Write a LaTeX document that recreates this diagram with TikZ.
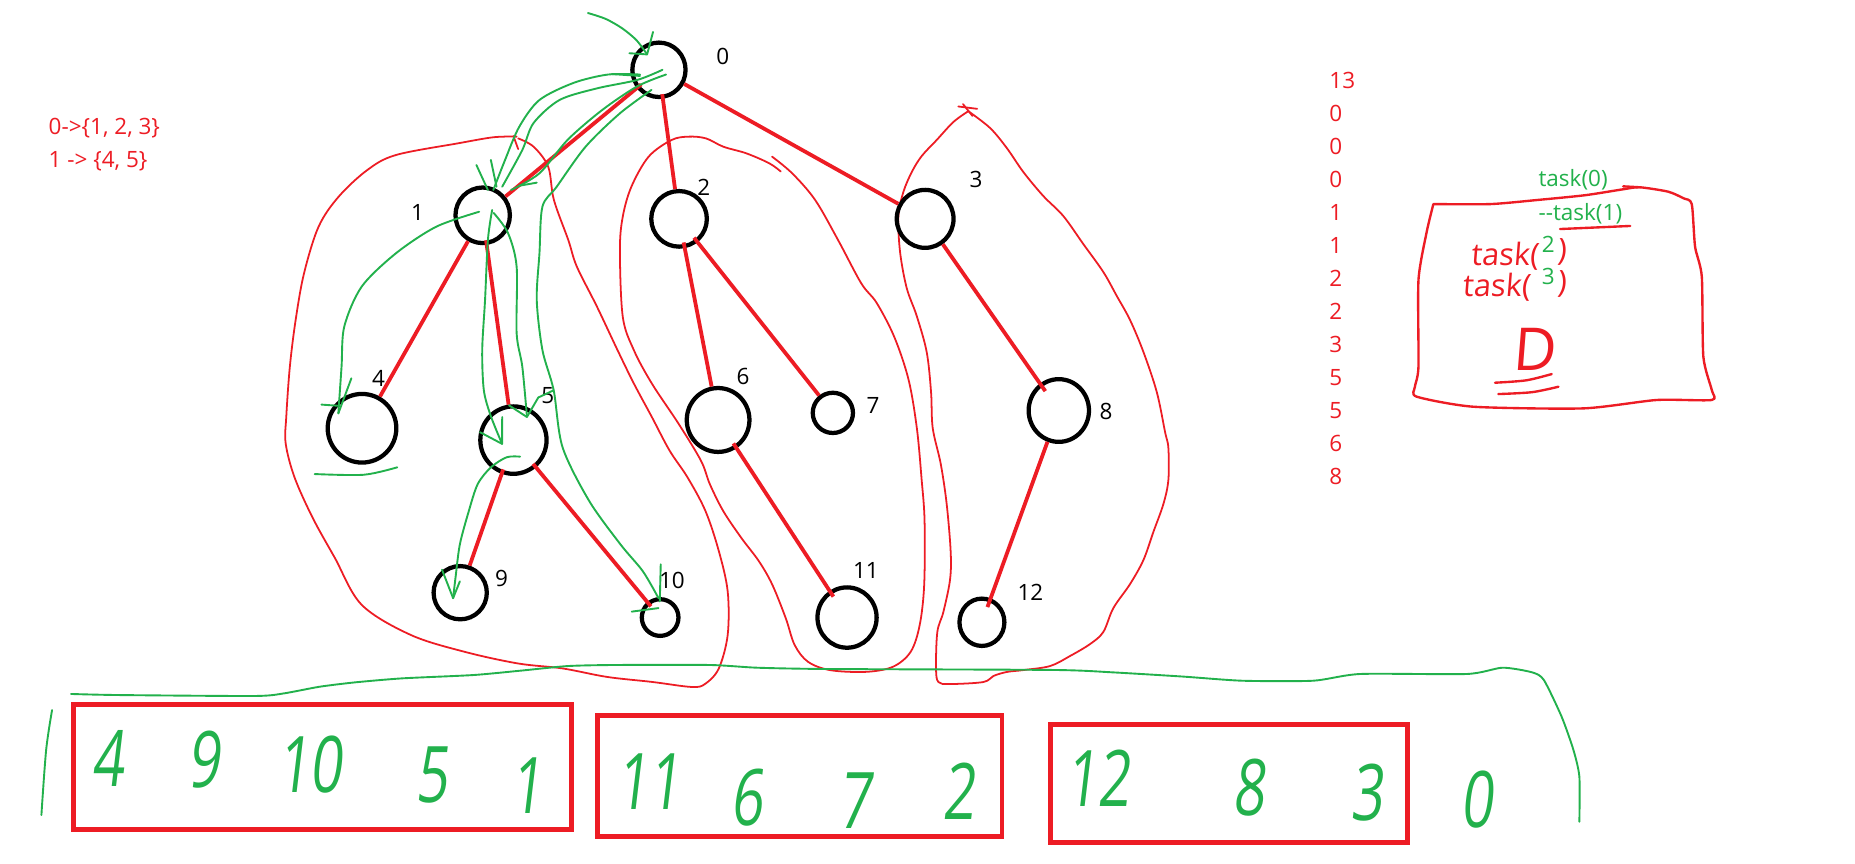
\documentclass[tikz,border=0pt]{standalone}
\usepackage{fontspec}
\setmainfont{Open Sans}
\newfontfamily\handfont[FakeSlant=0.12,FakeStretch=0.72]{Open Sans}
\newfontfamily\scribble[FakeSlant=0.08]{Open Sans}
\usetikzlibrary{shapes.geometric}
\definecolor{pred}{RGB}{237,28,36}
\definecolor{pgreen}{RGB}{34,177,76}
\tikzset{
 tnode/.style={ellipse, draw=black, line width=3.6pt, inner sep=0pt},
 nlabel/.style={font=\fontsize{19}{22}\selectfont, inner sep=0pt, text=black},
 tedge/.style={draw=pred, line width=3.2pt},
 redhand/.style={draw=pred, line width=1.5pt, line cap=round, line join=round},
 greenhand/.style={draw=pgreen, line width=1.6pt, line cap=round, line join=round},
 redtxt/.style={font=\fontsize{19}{22}\selectfont, text=pred, inner sep=0pt},
 greentxt/.style={font=\fontsize{19}{22}\selectfont, text=pgreen, inner sep=0pt},
 handdigit/.style={font=\handfont\fontsize{66}{66}\selectfont, text=pgreen, inner sep=0pt},
 redscribble/.style={font=\scribble\fontsize{26}{28}\selectfont, text=pred, inner sep=0pt},
 resultbox/.style={draw=pred, line width=4pt},
}
\begin{document}
\begin{tikzpicture}[x=1pt,y=-1pt]
\useasboundingbox (0,0) rectangle (1568,730);
\fill[white] (0,0) rectangle (1568,730);

% ---------- red subtree outlines ----------
\draw[redhand] plot[smooth, tension=0.55] coordinates {(436.7,115.5)(417.3,116)(388,121)(334.8,131)(310.5,143.7)(286.3,166.2)(269.3,191.6)(257,231)(249.9,270.5)(245,310)(242,352)(241.5,375)(249,403.6)(264.2,437.5)(283,471.5)(305.7,511.2)(347.2,536.7)(392.5,550.9)(437.8,560.8)(475.5,565)(513.2,572.2)(551,576.4)(585,580.7)(596.3,577.9)(607.6,565)(615.1,536.7)(615.1,499.9)(607.6,465.8)(596.3,431.9)(581.2,403.6)(566,380.9)(551,352.5)(535.8,324.2)(522,296)(504.6,259.2)(487.6,225.4)(480.4,203)(468.2,169)(463.4,141)(451,124)(438,117)};
\draw[redhand] (434,115) -- (438,126);
\draw[redhand] plot[smooth, tension=0.55] coordinates {(660,145)(650.2,138)(630.8,129.6)(611.4,124)(596.8,117)(582.3,115.5)(567.7,118.3)(548.3,132.4)(533.7,157.8)(526.4,183.2)(524,211.3)(526.4,267.7)(535.8,296)(551,324.2)(573.6,358.2)(592.5,389.4)(600,409.2)(611.3,431.9)(626.5,454.5)(641.5,474.4)(652.8,494.2)(664.2,522.6)(671.7,545.2)(683,559.4)(702,566.5)(732.1,567.9)(754.8,563.6)(769.8,550.9)(777.4,528.3)(781.2,494.2)(781.5,440)(779,405)(775,362)(768,321)(756,285)(741,256)(728,239.5)(708.4,202.9)(689,169)(669.6,146.5)(652.6,132.4)};
\draw[redhand] plot[smooth, tension=0.55] coordinates {(818.5,94)(836.9,108.2)(851,125.1)(865,145.4)(881.9,165.7)(898.8,182.6)(915.7,206.3)(932.6,229.9)(944,250.2)(955.2,270.5)(966.5,297.5)(977.8,331.4)(984.8,365.2)(987.6,378.7)(987.6,405.7)(983.4,426)(974.9,449.7)(966.5,473.4)(955.2,493.7)(941.1,514)(932.6,534.2)(921.4,544.4)(904.5,554.5)(887.6,563)(865,566.4)(851,568)(839.7,571.4)(831.2,576.5)(803,578.2)(793.2,576.5)(791.2,564.7)(792.3,534.2)(797.4,517.3)(803,490.3)(803.6,466.6)(800.2,426)(795.2,392.2)(788.4,361.8)(787,331.4)(783.3,297.5)(774.9,267.1)(766.4,243.4)(760.8,213)(759.4,182.6)(763.6,162.3)(770.7,145.4)(779.1,131.9)(791.8,118.3)(805.9,103.1)(818.5,94)};
\draw[redhand] (810,90) -- (826,92);
\draw[redhand] (814,88) -- (822,98);

% ---------- tree nodes ----------
\node[tnode, minimum width=45pt, minimum height=46pt] (n0) at (557,59) {};
\node[tnode, minimum width=46pt, minimum height=47pt] (n1) at (408,182) {};
\node[tnode, minimum width=47pt, minimum height=47pt] (n2) at (574,185) {};
\node[tnode, minimum width=48pt, minimum height=49pt] (n3) at (782,185) {};
\node[tnode, minimum width=58pt, minimum height=58pt] (n4) at (306,362) {};
\node[tnode, minimum width=56pt, minimum height=57pt] (n5) at (434,372) {};
\node[tnode, minimum width=53pt, minimum height=54pt] (n6) at (607,355) {};
\node[tnode, minimum width=34pt, minimum height=34pt] (n7) at (704,349) {};
\node[tnode, minimum width=51pt, minimum height=53pt] (n8) at (895,347) {};
\node[tnode, minimum width=45pt, minimum height=45pt] (n9) at (389,501) {};
\node[tnode, minimum width=31pt, minimum height=31pt] (n10) at (558,522) {};
\node[tnode, minimum width=50pt, minimum height=51pt] (n11) at (716,522) {};
\node[tnode, minimum width=38pt, minimum height=40pt] (n12) at (830,526) {};

\node[nlabel] (l0) at (611,48) {0};
\node[nlabel] (l1) at (353,180) {1};
\node[nlabel] (l2) at (595,158) {2};
\node[nlabel] (l3) at (825,152) {3};
\node[nlabel] (l4) at (320,320) {4};
\node[nlabel] (l5) at (463,334) {5};
\node[nlabel] (l6) at (628,318) {6};
\node[nlabel] (l7) at (738,343) {7};
\node[nlabel] (l8) at (935,348) {8};
\node[nlabel] (l9) at (424,489) {9};
\node[nlabel] (l10) at (568,491) {10};
\node[nlabel] (l11) at (732,482) {11};
\node[nlabel] (l12) at (871,501) {12};

% ---------- tree edges ----------
\draw[tedge, shorten <=-5pt] (n0) -- (n1);
\draw[tedge, shorten <=-4pt] (n0) -- (n2);
\draw[tedge] (n0) -- (n3);
\draw[tedge] (n1) -- (n4);
\draw[tedge, shorten <=-4pt] (n1) -- (n5);
\draw[tedge, shorten <=-5pt] (n2) -- (n6);
\draw[tedge, shorten <=-5pt] (n2) -- (n7);
\draw[tedge, shorten >=-8pt] (n3) -- (n8);
\draw[tedge, shorten <=-4pt] (n5) -- (n9);
\draw[tedge, shorten <=-4pt, shorten >=-5pt] (n5) -- (n10);
\draw[tedge, shorten <=-5pt, shorten >=-6pt] (n6) -- (n11);
\draw[tedge, shorten >=-8pt] (n8) -- (n12);

% ---------- green traversal strokes ----------
\draw[greenhand] plot[smooth] coordinates {(497,11)(512,16)(526,24)(538,34)(547,46)};
\draw[greenhand] (552,27) -- (547,46) -- (532,45);
\draw[greenhand] plot[smooth] coordinates {(541,63)(514,63)(485,70)(456,84.5)(439,107)(427,135)(417,160.6)};
\draw[greenhand] plot[smooth] coordinates {(560,59)(538.6,67.6)(504.6,74.7)(473,84.5)(451,104)(441.5,126.8)(424.5,157.8)};
\draw[greenhand] plot[smooth] coordinates {(563,63)(538.6,73)(509,93)(480,118)(456,146.5)(432,160.6)};
\draw[greenhand] (517,62.6) -- (541,64.2);
\draw[greenhand] (402.7,139.5) -- (412.4,160.6);
\draw[greenhand] (414.9,135.2) -- (419.7,157.8);
\draw[greenhand] (453.7,154.4) -- (439,157);
\draw[greenhand] plot[smooth] coordinates {(550.7,76)(524,95.8)(495,124)(470.6,157.8)(458.5,174.7)(456,214)(453.7,253.6)(458.5,295.9)(468,329.8)(475.5,378)(498,423.4)(524.5,460.2)(543.4,482.9)(556.6,505.6)};
\draw[greenhand] (558.5,477) -- (557.7,508.4);
\draw[greenhand] (534,517) -- (556.6,514);
\draw[greenhand] plot[smooth] coordinates {(405,179)(368.8,191.6)(334.8,214)(305.7,242.3)(291,276)(288.7,310)(286,349.4)};
\draw[greenhand] (297,319.8) -- (286,349.4);
\draw[greenhand] (271.7,342) -- (286,343);
\draw[greenhand] plot[smooth] coordinates {(266,400.7)(307.5,401.3)(335.8,395)};
\draw[greenhand] plot[smooth] coordinates {(416,177.5)(412.4,203)(410,253.6)(407.6,295.9)(409,330)(415,352)(424.4,375.2)};
\draw[greenhand] (424.5,352.5) -- (424.4,375.2) -- (405.7,365.3);
\draw[greenhand] plot[smooth] coordinates {(417.3,180)(429.4,197)(436.7,225.4)(436.7,281.8)(441.5,310)(445.4,352)};
\draw[greenhand] (430.2,342.6) -- (445.4,352.5) -- (455,336) -- (468,329.9);
\draw[greenhand] plot[smooth] coordinates {(439.6,386)(428.3,386.5)(415,395)(403.8,409.2)(396.3,431.9)(388.7,460.2)(385,488.6)(383,505.6)};
\draw[greenhand] (373.6,481.5) -- (383,505.6) -- (388.7,491.4);

% ---------- green bracket at bottom ----------
\draw[greenhand] plot[smooth, tension=0.4] coordinates {(60,586.6)(100,587.5)(215,588.3)(240,586.1)(270,580.5)(300,576.8)(340,573.4)(400,570.6)(440,566.9)(480,563)(520,562.1)(600,562.1)(640,564.4)(700,565.5)(890,566.3)(940,568.3)(1000,571.9)(1050,575.4)(1110,575.4)(1150,569.7)(1240,569.7)(1270,564.4)(1295,568.3)(1305,574.8)(1320,605.8)(1330,634)(1335,656.5)(1335,694.6)};
\draw[greenhand] plot[smooth] coordinates {(44,600.2)(39,634)(35,688.9)};

% ---------- result boxes ----------
\draw[resultbox] (62,595.4) rectangle (483,701.1);
\draw[resultbox] (505,604.7) rectangle (847,707.2);
\draw[resultbox] (888,612.3) rectangle (1190,712);

\node[handdigit] (d4) at (91,641) {4};
\node[handdigit] (d9) at (172,642) {9};
\node[handdigit] (d10) at (262,646) {10};
\node[handdigit] (d5) at (365,655) {5};
\node[handdigit] (d1) at (445,664) {1};
\node[handdigit] (d11) at (548,661) {11};
\node[handdigit] (d6) at (631,674) {6};
\node[handdigit] (d7) at (722,677) {7};
\node[handdigit] (d2) at (810,669) {2};
\node[handdigit] (d12) at (928,658) {12};
\node[handdigit] (d8) at (1055,666) {8};
\node[handdigit] (d3) at (1155,670) {3};
\node[handdigit] (d0) at (1248,676) {0};

% ---------- adjacency text ----------
\node[redtxt, anchor=base west] (adj0) at (41,113.3) {0->\{1, 2, 3\}};
\node[redtxt, anchor=base west] (adj1) at (41,141.4) {1 -> \{4, 5\}};

% ---------- input column ----------
\foreach \v [count=\i from 0] in {13,0,0,0,1,1,2,2,3,5,5,6,8} {
  \node[redtxt, anchor=base west] (c\i) at (1123.5,74.7+27.9*\i) {\v};
}

% ---------- stack box ----------
\draw[redhand, line width=2pt] plot[smooth, tension=0.4] coordinates {(1211.6,172.5)(1260,172.5)(1300,169)(1340,165)(1372,160)(1386,158.3)(1410,162)(1423,167.6)(1430,172.5)(1432.8,208.5)(1438.5,233.9)(1439.8,301.5)(1446.9,329.7)(1446.9,338.1)(1400.4,338.1)(1338.4,345.2)(1245.4,343.8)(1197.5,335.3)(1196,326.9)(1199,310)(1199,236.7)(1206,195.8)(1211.6,172.5)};
\draw[redhand, line width=2pt] (1372,157.5) -- (1386,158.3);
\node[greentxt, anchor=base west] (t0) at (1300.3,157.8) {task(0)};
\node[greentxt, anchor=base west] (t1) at (1300.3,186) {{-}{-}task(1)};
\draw[redhand, line width=2pt] (1318.7,193.6) -- (1378,191);
\node[redscribble, anchor=base west] (t2) at (1243,224) {task(};
\node[greentxt, anchor=base west] (t2n) at (1303,213.6) {2};
\node[redscribble, anchor=base west] (t2c) at (1316,220) {)};
\node[redscribble, anchor=base west] (t3) at (1236,251) {task(};
\node[greentxt, anchor=base west] (t3n) at (1303,240.9) {3};
\node[redscribble, anchor=base west] (t3c) at (1316,247) {)};
\node[font=\scribble\fontsize{50}{50}\selectfont, text=pred, inner sep=0pt, anchor=base] (dd) at (1297,312.8) {D};
\draw[redhand, line width=2pt] plot[smooth] coordinates {(1263.7,323.5)(1290,321.5)(1311.6,316.2)};
\draw[redhand, line width=2pt] plot[smooth] coordinates {(1266.5,333.1)(1295,331.5)(1317.3,326.9)};
\end{tikzpicture}
\end{document}
